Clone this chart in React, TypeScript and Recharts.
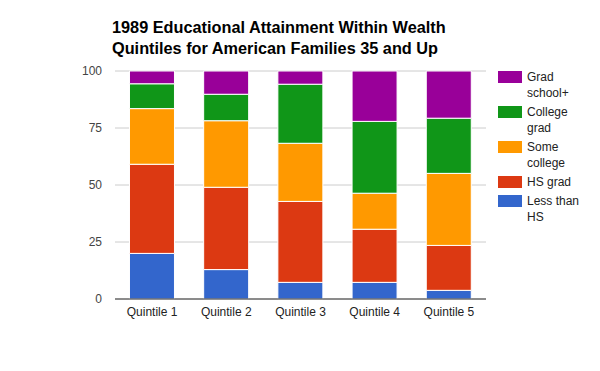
import { BarChart, Bar, XAxis, YAxis, CartesianGrid } from 'recharts';

const quintiles = ['Quintile 1', 'Quintile 2', 'Quintile 3', 'Quintile 4', 'Quintile 5'];

// shares of families (%) by education level, bottom to top of each stack
const lessThanHS = [20.0, 12.9, 7.3, 7.3, 3.8];
const hsGrad = [39.1, 36.1, 35.5, 23.3, 19.7];
const someCollege = [24.4, 29.2, 25.5, 15.8, 31.6];
const collegeGrad = [10.9, 11.6, 25.9, 31.5, 24.2];
const gradSchool = [5.6, 10.2, 5.8, 22.1, 20.7];

const yTicks = [0, 25, 50, 75, 100];

const series = [
  { key: 'lessThanHS', name: 'Less than HS', values: lessThanHS, color: '#3366cc' },
  { key: 'hsGrad', name: 'HS grad', values: hsGrad, color: '#dc3912' },
  { key: 'someCollege', name: 'Some college', values: someCollege, color: '#ff9900' },
  { key: 'collegeGrad', name: 'College grad', values: collegeGrad, color: '#109618' },
  { key: 'gradSchool', name: 'Grad school+', values: gradSchool, color: '#990099' },
];

const font = 'Arial, "Liberation Sans", sans-serif';

export default function App() {
  const data = quintiles.map((q, i) => {
    const row: Record<string, string | number> = { quintile: q };
    series.forEach(s => { row[s.key] = s.values[i]; });
    return row;
  });

  // legend lists the top of the stack first, wrapped like the original
  const legendItems = [...series].reverse();

  return (
    <div style={{ position: 'absolute', left: 0, top: 0, width: 600, height: 371, background: '#fff', fontFamily: font }}>
      <div style={{ position: 'absolute', left: 112, top: 17, fontSize: 16.3, fontWeight: 'bold', lineHeight: '21px', color: '#000' }}>
        1989 Educational Attainment Within Wealth<br />Quintiles for American Families 35 and Up
      </div>
      <BarChart width={600} height={371} data={data} margin={{ top: 71, right: 114, bottom: 42, left: 0 }} barCategoryGap="19.5%">
        <CartesianGrid vertical={false} stroke="#cccccc" />
        <XAxis
          dataKey="quintile"
          height={30}
          tickLine={false}
          axisLine={{ stroke: '#333333' }}
          tickSize={0}
          tickMargin={8}
          tick={{ fill: '#222222', fontSize: 12, fontFamily: font }}
        />
        <YAxis
          width={115}
          domain={[0, 100]}
          ticks={yTicks}
          tickLine={false}
          axisLine={false}
          tickSize={0}
          tickMargin={13}
          tick={{ fill: '#444444', fontSize: 12, fontFamily: font }}
        />
        {series.map(s => (
          <Bar
            key={s.key}
            dataKey={s.key}
            name={s.name}
            stackId="a"
            fill={s.color}
            stroke="#ffffff"
            strokeWidth={1}
            isAnimationActive={false}
          />
        ))}
      </BarChart>
      <div style={{ position: 'absolute', left: 498, top: 70, width: 100, fontSize: 12, color: '#222222' }}>
        {legendItems.map(s => {
          const words = s.name.split(' ');
          const twoLines = s.name.length > 8;
          return (
            <div key={s.key} style={{ display: 'flex', alignItems: 'flex-start', marginBottom: 4 }}>
              <div style={{ width: 24, height: 12, background: s.color, marginTop: 1, flexShrink: 0 }} />
              <div style={{ marginLeft: 5, lineHeight: '16px', marginTop: -1 }}>
                {twoLines ? (
                  <>
                    {words.slice(0, words.length > 2 ? 2 : 1).join(' ')}<br />
                    {words.slice(words.length > 2 ? 2 : 1).join(' ')}
                  </>
                ) : s.name}
              </div>
            </div>
          );
        })}
      </div>
    </div>
  );
}
